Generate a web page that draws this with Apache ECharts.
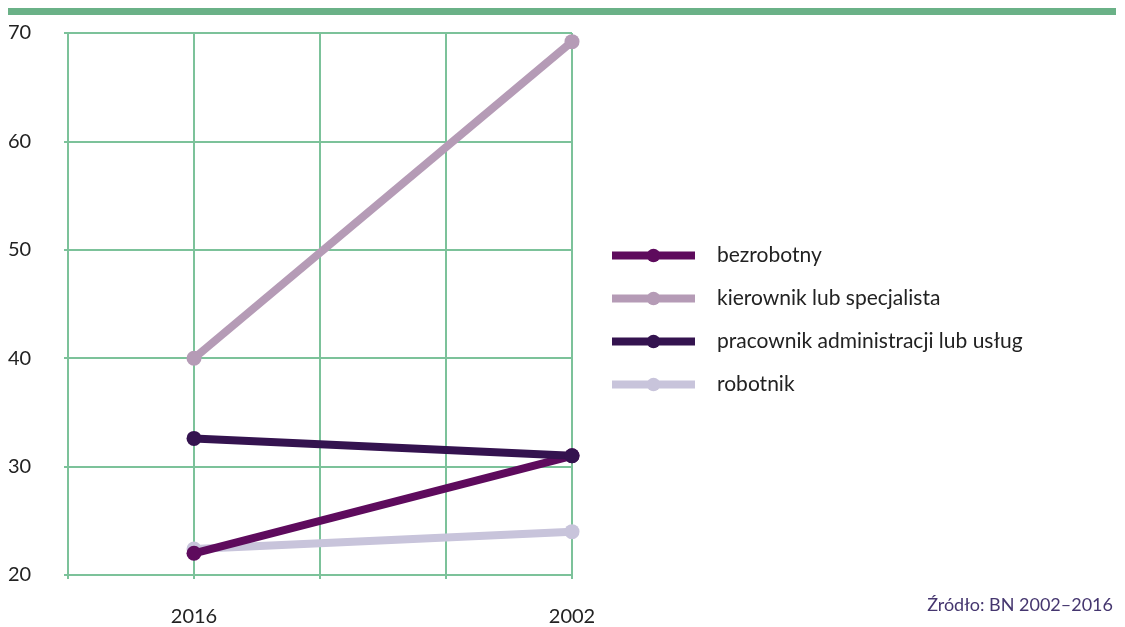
<!DOCTYPE html>
<html>
<head>
<meta charset="utf-8">
<script src="https://cdn.jsdelivr.net/npm/echarts@6/dist/echarts.min.js"></script>
<style>
  html, body { margin: 0; padding: 0; background: #fff; }
  #main { width: 1125px; height: 627px; }
</style>
</head>
<body>
<div id="main"></div>
<script>
// dane
var years = ['', '2016', '', '', '2002'];
var bezrobotny = [null, 22, null, null, 31];
var kierownik = [null, 40, null, null, 69.2];
var pracownik = [null, 32.6, null, null, 31];
var robotnik = [null, 22.4, null, null, 24];
var names = ['bezrobotny', 'kierownik lub specjalista', 'pracownik administracji lub usług', 'robotnik'];
var colors = ['#5e0b5d', '#b59bb6', '#34134f', '#c8c4db'];

var green = '#7cc29a';
var font = 'Lato';

function line(name, data, color, z) {
	return {
		name: name,
		type: 'line',
		data: data,
		connectNulls: true,
		symbol: 'circle',
		symbolSize: 15,
		z: z,
		lineStyle: { width: 8, color: color },
		itemStyle: { color: color },
		emphasis: { disabled: true }
	};
}

var chart = echarts.init(document.getElementById('main'));
var option = {
	animation: false,
	textStyle: { fontFamily: font },
	graphic: [{
		type: 'rect',
		shape: { x: 8, y: 8, width: 1108, height: 7 },
		style: { fill: '#6ab187' }
	}, {
		type: 'text',
		right: 12,
		top: 596,
		style: {
			text: 'Źródło: BN 2002–2016',
			fill: '#45366f',
			font: '18px ' + font,
			textAlign: 'right'
		}
	}],
	grid: {
		left: 68,
		right: 553,
		top: 33,
		bottom: 51
	},
	legend: {
		orient: 'vertical',
		left: 603,
		top: 240,
		itemWidth: 83,
		itemHeight: 17,
		itemGap: 22,
		data: names,
		lineStyle: { width: 8 },
		textStyle: { fontSize: 21, color: '#222', fontFamily: font, padding: [0, 0, 0, 17] }
	},
	xAxis: {
		type: 'category',
		data: years,
		boundaryGap: false,
		axisLine: { lineStyle: { color: green, width: 2 } },
		axisTick: { show: true, length: 4, lineStyle: { color: green, width: 2 } },
		axisLabel: { color: '#222', fontSize: 20, margin: 32, interval: 0 },
		splitLine: { show: true, lineStyle: { color: green, width: 2 } }
	},
	yAxis: {
		type: 'value',
		min: 20,
		max: 70,
		interval: 10,
		axisLine: { show: true, lineStyle: { color: green, width: 2 } },
		axisTick: { show: true, length: 4, lineStyle: { color: green, width: 2 } },
		axisLabel: { color: '#222', fontSize: 20, align: 'left', margin: 60 },
		splitLine: { show: true, lineStyle: { color: green, width: 2 } }
	},
	series: [
		line(names[0], bezrobotny, colors[0], 3),
		line(names[1], kierownik, colors[1], 2),
		line(names[2], pracownik, colors[2], 4),
		line(names[3], robotnik, colors[3], 1)
	]
};
chart.setOption(option);
</script>
</body>
</html>
